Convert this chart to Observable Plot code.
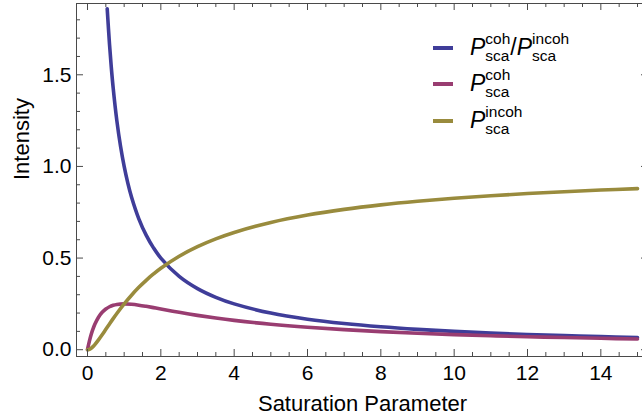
<!DOCTYPE html>
<html>
<head>
<meta charset="utf-8">
<script src="https://cdn.jsdelivr.net/npm/d3@7"></script>
<script src="https://cdn.jsdelivr.net/npm/@observablehq/plot@0.6"></script>
<style>
  body { margin: 0; background: #fff; }
  #wrap { position: relative; width: 642px; height: 418px; overflow: hidden;
          font-family: "Liberation Sans", Arial, sans-serif; color: #000; }
  #wrap svg { position: absolute; left: 0; top: 0; }
  .sw { position: absolute; left: 433px; width: 20px; height: 4px; }
  .txt { position: absolute; left: 470px; font-size: 23px; line-height: 23px; white-space: nowrap; }
  .P { font-style: italic; }
  .ss { display: inline-block; vertical-align: -5.7px; font-size: 15.5px; line-height: 16.7px; }
  .ss span { display: block; }
</style>
</head>
<body>
<div id="wrap"></div>
<script>
// ---- data ----
const satParam = [0, 0.02, 0.05, 0.1, 0.15, 0.2, 0.3, 0.4, 0.5, 0.6, 0.7, 0.8, 1.0, 1.2, 1.4, 1.6, 1.8, 2, 2.5, 3, 3.5, 4, 5, 6, 7, 8, 9, 10, 11, 12, 13, 14, 15];
const cohIntensity = [0, 0.0192, 0.0454, 0.0826, 0.1134, 0.1389, 0.1775, 0.2041, 0.2222, 0.2344, 0.2422, 0.2469, 0.25, 0.2479, 0.2431, 0.2367, 0.2296, 0.2222, 0.2041, 0.1875, 0.1728, 0.16, 0.1389, 0.1224, 0.1094, 0.0988, 0.09, 0.0826, 0.0764, 0.071, 0.0663, 0.0622, 0.0586];
const incohIntensity = [0, 0.0004, 0.0023, 0.0083, 0.017, 0.0278, 0.0533, 0.0816, 0.1111, 0.1406, 0.1696, 0.1975, 0.25, 0.2975, 0.3403, 0.3787, 0.4133, 0.4444, 0.5102, 0.5625, 0.6049, 0.64, 0.6944, 0.7347, 0.7656, 0.7901, 0.81, 0.8264, 0.8403, 0.8521, 0.8622, 0.8711, 0.8789];
const ratioSat = [0.5376, 0.6, 0.65, 0.7, 0.8, 0.9, 1.0, 1.1, 1.2, 1.4, 1.6, 1.8, 2, 2.5, 3, 3.5, 4, 5, 6, 7, 8, 9, 10, 11, 12, 13, 14, 15];
const ratioIntensity = [1.86, 1.6667, 1.5385, 1.4286, 1.25, 1.1111, 1.0, 0.9091, 0.8333, 0.7143, 0.625, 0.5556, 0.5, 0.4, 0.3333, 0.2857, 0.25, 0.2, 0.1667, 0.1429, 0.125, 0.1111, 0.1, 0.0909, 0.0833, 0.0769, 0.0714, 0.0667];

const xMajorTicks = [0, 2, 4, 6, 8, 10, 12, 14];
const xMinorTicks = [0.5, 1, 1.5, 2.5, 3, 3.5, 4.5, 5, 5.5, 6.5, 7, 7.5, 8.5, 9, 9.5, 10.5, 11, 11.5, 12.5, 13, 13.5, 14.5, 15];
const yMajorTicks = [0, 0.5, 1, 1.5];
const yTickLabels = ["0.0", "0.5", "1.0", "1.5"];
const yMinorTicks = [0.1, 0.2, 0.3, 0.4, 0.6, 0.7, 0.8, 0.9, 1.1, 1.2, 1.3, 1.4, 1.6, 1.7, 1.8];

const xTitle = "Saturation Parameter";
const yTitle = "Intensity";
const seriesColors = ["#3f3d99", "#993d71", "#998b3d"];
const legendSups = [["coh", "incoh"], ["coh"], ["incoh"]];
const legendSub = "sca";

// ---- layout ----
const W = 642, H = 418;
const mL = 76, mR = -6, mT = 3, mB = 62;
const plotW = W - mL - mR, plotH = H - mT - mB;
const frameColor = "#4a4a4a";
const lw = 3.6;

const cohRows = satParam.map((s, i) => ({s, v: cohIntensity[i]}));
const incohRows = satParam.map((s, i) => ({s, v: incohIntensity[i]}));
const ratioRows = ratioSat.map((s, i) => ({s, v: ratioIntensity[i]}));

const chart = Plot.plot({
  width: W, height: H,
  marginLeft: mL, marginRight: mR, marginTop: mT, marginBottom: mB,
  style: {fontFamily: '"Liberation Sans", Arial, sans-serif', fontSize: "21px", color: "#000", background: "transparent"},
  x: {domain: [-0.3, 15.3], axis: null},
  y: {domain: [-0.037, 1.889], axis: null},
  marks: [
    Plot.line(ratioRows, {x: "s", y: "v", stroke: seriesColors[0], strokeWidth: lw, curve: "catmull-rom", clip: true}),
    Plot.line(cohRows, {x: "s", y: "v", stroke: seriesColors[1], strokeWidth: lw, curve: "catmull-rom", clip: true}),
    Plot.line(incohRows, {x: "s", y: "v", stroke: seriesColors[2], strokeWidth: lw, curve: "catmull-rom", clip: true}),
    Plot.frame({stroke: frameColor, strokeWidth: 1}),
    // bottom ticks
    Plot.ruleX(xMajorTicks, {x: d => d, insetTop: plotH - 7, stroke: frameColor}),
    Plot.ruleX(xMinorTicks, {x: d => d, insetTop: plotH - 4, stroke: frameColor}),
    // top ticks
    Plot.ruleX(xMajorTicks, {x: d => d, insetBottom: plotH - 7, stroke: frameColor}),
    Plot.ruleX(xMinorTicks, {x: d => d, insetBottom: plotH - 4, stroke: frameColor}),
    // left ticks
    Plot.ruleY(yMajorTicks, {y: d => d, insetRight: plotW - 7, stroke: frameColor}),
    Plot.ruleY(yMinorTicks, {y: d => d, insetRight: plotW - 4, stroke: frameColor}),
    // right ticks
    Plot.ruleY(yMajorTicks, {y: d => d, insetLeft: plotW - 7, stroke: frameColor}),
    Plot.ruleY(yMinorTicks, {y: d => d, insetLeft: plotW - 4, stroke: frameColor}),
    // tick labels
    Plot.text(xMajorTicks, {x: d => d, text: d => String(d), frameAnchor: "bottom", lineAnchor: "top", dy: 9, fontSize: 21, fill: "#000"}),
    Plot.text(yMajorTicks, {y: d => d, text: (d, i) => yTickLabels[i], frameAnchor: "left", textAnchor: "end", dx: -5, fontSize: 21, fill: "#000"}),
    // axis titles
    Plot.text([xTitle], {text: d => d, frameAnchor: "bottom", lineAnchor: "top", dy: 39, fontSize: 22, fill: "#000"}),
    Plot.text([yTitle], {text: d => d, frameAnchor: "left", rotate: -90, lineAnchor: "top", dx: -63, fontSize: 22, fill: "#000"})
  ]
});

const wrap = document.getElementById("wrap");
wrap.appendChild(chart);

// ---- legend (inside the plot area, top right) ----
const rowCenters = [48.3, 84.3, 120.7];
legendSups.forEach((sups, i) => {
  const sw = document.createElement("div");
  sw.className = "sw";
  sw.style.top = (rowCenters[i] - 2) + "px";
  sw.style.background = seriesColors[i];
  wrap.appendChild(sw);
  const t = document.createElement("div");
  t.className = "txt";
  t.style.top = (rowCenters[i] - 16.9) + "px";
  t.innerHTML = sups.map(s => `<span class="P">P</span><span class="ss"><span>${s}</span><span>${legendSub}</span></span>`).join("/");
  wrap.appendChild(t);
});
</script>
</body>
</html>
